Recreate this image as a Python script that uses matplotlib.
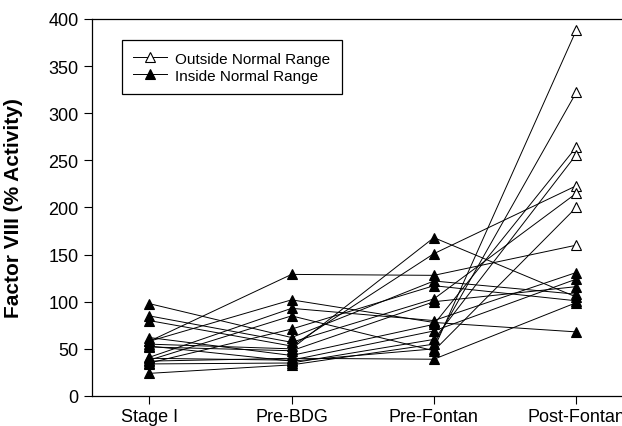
import numpy as np
import matplotlib.pyplot as plt

plt.rcParams['font.family'] = ['Liberation Sans', 'DejaVu Sans']

stages = ['Stage I', 'Pre-BDG', 'Pre-Fontan', 'Post-Fontan']

# one row per patient: Stage I, Pre-BDG, Pre-Fontan, Post-Fontan
stage1 = [58, 58, 41, 38, 35, 55, 80, 98, 85, 52, 62, 40, 34, 24, 53, 37]
pre_bdg = [129, 102, 93, 85, 71, 50, 53, 62, 57, 48, 43, 38, 35, 33, 37, 40]
pre_fontan = [128, 78, 80, 48, 117, 168, 151, 122, 103, 100, 76, 69, 60, 55, 50, 39]
post_fontan = [160, 68, 131, 200, 101, 105, 223, 108, 215, 116, 264, 124, 256, 322, 388, 99]
post_outside = [True, False, False, True, False, False, True, False,
                True, False, True, False, True, True, True, False]

data = np.array([stage1, pre_bdg, pre_fontan, post_fontan]).T
x = np.arange(len(stages))

fig = plt.figure(figsize=(6.22, 4.27), dpi=100)
ax = fig.add_axes([0.1484, 0.0703, 0.9153, 0.8829])

for row in data:
    ax.plot(x, row, color='black', lw=0.7, zorder=2)

# markers: everything filled except post-Fontan values outside normal range
for i, row in enumerate(data):
    for j, v in enumerate(row):
        if j == 3 and post_outside[i]:
            ax.plot(j, v, marker='^', ms=7, mfc='white', mec='black', mew=0.8, zorder=3)
        else:
            ax.plot(j, v, marker='^', ms=7, mfc='black', mec='black', mew=0.8, zorder=3)

h1, = ax.plot([], [], color='black', lw=0.7, marker='^', ms=7, mfc='white', mec='black', mew=0.8)
h2, = ax.plot([], [], color='black', lw=0.7, marker='^', ms=7, mfc='black', mec='black', mew=0.8)
leg = ax.legend([h1, h2], ['Outside Normal Range', 'Inside Normal Range'],
                loc='upper left', bbox_to_anchor=(0.0516, 0.944), fontsize=11,
                frameon=True, fancybox=False, edgecolor='black', framealpha=1,
                handlelength=2.2, handletextpad=0.55, borderpad=0.75,
                labelspacing=0.2, borderaxespad=0)
leg.get_frame().set_linewidth(0.9)

ax.set_xlim(-0.4, 3.6)
ax.set_ylim(0, 400)
ax.set_yticks(np.arange(0, 401, 50))
ax.set_xticks(x)
ax.set_xticklabels(stages)
ax.tick_params(direction='out', length=6, width=0.8, labelsize=13, colors='black', pad=4)
ax.tick_params(axis='x', pad=3)
ax.set_ylabel('Factor VIII (% Activity)', fontsize=15, fontweight='bold')
ax.yaxis.set_label_coords(-0.121, 0.5)
for s in ax.spines.values():
    s.set_linewidth(0.9)

fig.savefig('out.png', dpi=100)
